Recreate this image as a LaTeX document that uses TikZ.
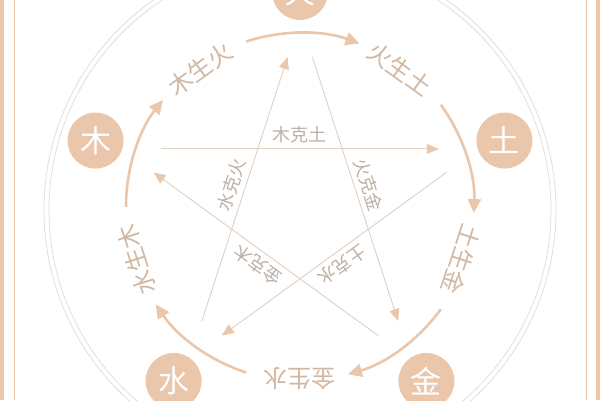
\documentclass[tikz,border=0pt]{standalone}
\usepackage{fontspec}
\setmainfont{Noto Sans CJK SC}
\usetikzlibrary{arrows.meta}

\definecolor{peach}{RGB}{234,198,170}
\definecolor{ringgray}{RGB}{228,222,218}
\definecolor{keline}{RGB}{224,208,194}
\definecolor{ketext}{RGB}{188,176,165}
\definecolor{shengtext}{RGB}{210,184,162}

\begin{document}
\begin{tikzpicture}[x=1pt,y=1pt,
  elem/.style={circle,fill=peach,minimum size=56pt,inner sep=0pt,text=white,font=\fontsize{31}{31}\selectfont},
  sheng/.style={draw=peach,line width=2.6pt,-{Triangle[length=14pt,width=13pt]}},
  shenglabel/.style={text=shengtext,font=\fontsize{24}{24}\selectfont},
  ke/.style={draw=keline,line width=0.9pt,shorten <=40pt,shorten >=40pt,-{Triangle[length=12pt,width=10pt,color=peach]}},
  kelabel/.style={text=ketext,font=\fontsize{18}{18}\selectfont,midway,sloped,allow upside down,above=4pt,inner sep=1pt}]

\useasboundingbox (-300,-193) rectangle (300,207);
\fill[white] (-300,-193) rectangle (300,207);

\fill[peach] (-300,-193) rectangle (-295.5,207);
\draw[peach,line width=0.8pt] (-286,-193) -- (-286,207);
\fill[peach] (295.5,-193) rectangle (300,207);
\draw[peach,line width=0.8pt] (286,-193) -- (286,207);

\draw[ringgray,line width=0.8pt] (0,-3) circle[radius=256];
\draw[ringgray,line width=0.8pt] (0,-3) circle[radius=251];

\node[elem] (huo) at (90:215) {火};
\node[elem] (tu) at (18:215) {土};
\node[elem] (jin) at (-54:215) {金};
\node[elem] (shui) at (-126:215) {水};
\node[elem] (mu) at (162:215) {木};

\coordinate (a1) at (108:174);
\coordinate (a2) at (36:174);
\coordinate (a3) at (-36:174);
\coordinate (a4) at (-108:174);
\coordinate (a5) at (180:174);

\draw[sheng] (a1) arc[start angle=108,end angle=70,radius=174];
\draw[sheng] (a2) arc[start angle=36,end angle=-2,radius=174];
\draw[sheng] (a3) arc[start angle=-36,end angle=-74,radius=174];
\draw[sheng] (a4) arc[start angle=-108,end angle=-146,radius=174];
\draw[sheng] (a5) arc[start angle=180,end angle=142,radius=174];

\node[shenglabel,rotate=36] (mushenghuo) at (126:170) {木生火};
\node[shenglabel,rotate=-36] (huoshengtu) at (54:170) {火生土};
\node[shenglabel,rotate=-108] (tushengjin) at (-18:170) {土生金};
\node[shenglabel,rotate=180] (jinshengshui) at (-90:172) {金生水};
\node[shenglabel,rotate=108] (shuishengmu) at (-162:172) {水生木};

\coordinate (pmu) at (162:188);
\coordinate (phuo) at (90:188);
\coordinate (ptu) at (18:188);
\coordinate (pjin) at (-54:188);
\coordinate (pshui) at (-126:188);

\draw[ke] (pmu) -- node[kelabel] {木克土} (ptu);
\draw[ke] (phuo) -- node[kelabel] {火克金} (pjin);
\draw[ke] (ptu) -- node[kelabel] {土克水} (pshui);
\draw[ke] (pjin) -- node[kelabel] {金克木} (pmu);
\draw[ke] (pshui) -- node[kelabel] {水克火} (phuo);
\end{tikzpicture}
\end{document}
